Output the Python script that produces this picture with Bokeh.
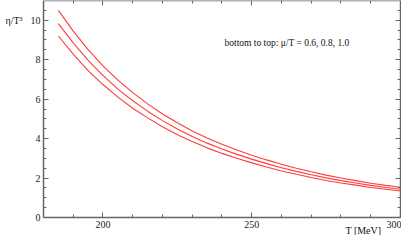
from bokeh.plotting import figure
from bokeh.models import LinearAxis, FixedTicker, Range1d, CustomJSTickFormatter, Label
from bokeh.embed import file_html
from bokeh.resources import INLINE

T = [185, 190, 195, 200, 205, 210, 215, 220, 225, 230, 235, 240,
     245, 250, 255, 260, 265, 270, 275, 280, 285, 290, 295, 300]
eta_mu10 = [10.50, 9.45, 8.51, 7.69, 6.96, 6.33, 5.76, 5.25, 4.80, 4.39, 4.03, 3.71,
            3.42, 3.16, 2.92, 2.70, 2.50, 2.32, 2.15, 2.00, 1.87, 1.74, 1.63, 1.53]
eta_mu08 = [9.83, 8.85, 7.97, 7.20, 6.51, 5.92, 5.39, 4.91, 4.49, 4.11, 3.77, 3.47,
            3.20, 2.96, 2.73, 2.52, 2.34, 2.17, 2.01, 1.87, 1.75, 1.63, 1.52, 1.43]
eta_mu06 = [9.20, 8.28, 7.45, 6.74, 6.10, 5.54, 5.05, 4.60, 4.20, 3.85, 3.53, 3.25,
            3.00, 2.77, 2.56, 2.36, 2.19, 2.03, 1.88, 1.75, 1.64, 1.52, 1.43, 1.34]
x_major = [200, 250, 300]
x_minor = [190, 210, 220, 230, 240, 260, 270, 280, 290]
y_major = [0, 2, 4, 6, 8, 10]
y_minor = [0.5, 1, 1.5, 2.5, 3, 3.5, 4.5, 5, 5.5, 6.5, 7, 7.5, 8.5, 9, 9.5, 10.5]
T_min, T_max = 180, 300
eta_min, eta_max = 0, 11

SERIF = "Liberation Serif"
AX = "#666666"

# the frame covers the whole canvas; the axes are drawn at fixed places inside it
p = figure(width=401, height=235, output_backend="svg", toolbar_location=None,
           x_range=Range1d(165.55, 300.34), y_range=Range1d(-0.912, 11.0),
           x_axis_location=None, y_axis_location=None,
           min_border_left=0, min_border_right=0, min_border_top=0, min_border_bottom=0)
p.grid.visible = False
p.outline_line_color = None
p.background_fill_color = "white"
p.border_fill_color = "white"

blank = CustomJSTickFormatter(code="return '';")

def make_axis(ticker, loc, bounds, labels):
    ax = LinearAxis(ticker=ticker, fixed_location=loc, bounds=bounds)
    ax.axis_line_color = AX
    ax.axis_line_width = 1.5
    ax.major_tick_line_color = AX
    ax.minor_tick_line_color = AX
    ax.major_tick_in = 5
    ax.major_tick_out = 0
    ax.minor_tick_in = 3
    ax.minor_tick_out = 0
    ax.major_label_text_font = SERIF
    ax.major_label_text_color = "#222222"
    ax.major_label_text_font_size = "10px"
    ax.major_label_standoff = 3
    if not labels:
        ax.formatter = blank
    return ax

xt = FixedTicker(ticks=x_major, minor_ticks=x_minor)
yt = FixedTicker(ticks=y_major, minor_ticks=y_minor)

p.add_layout(make_axis(xt, eta_min, (T_min, T_max), True), "below")
p.add_layout(make_axis(xt, eta_max, (T_min, T_max), False), "above")
p.add_layout(make_axis(yt, T_min, (eta_min, eta_max), True), "left")
p.add_layout(make_axis(yt, T_max, (eta_min, eta_max), False), "right")

for ys in (eta_mu06, eta_mu08, eta_mu10):
    p.line(T, ys, line_color="#ff3b3b", line_width=1.1)

p.add_layout(Label(x=240.85, y=8.87, text="bottom to top:  \u03bc/T = 0.6, 0.8, 1.0",
                   text_font=SERIF, text_font_size="9.5px", text_color="#111111",
                   text_baseline="middle"))
p.add_layout(Label(x=167.2, y=10.0, text="\u03b7/T\u00b3",
                   text_font=SERIF, text_font_size="10px", text_color="#111111",
                   text_baseline="middle"))
p.add_layout(Label(x=281.5, y=-0.66, text="T [MeV]",
                   text_font=SERIF, text_font_size="10px", text_color="#111111",
                   text_baseline="middle"))

open("out.html", "w").write(file_html(p, INLINE))
